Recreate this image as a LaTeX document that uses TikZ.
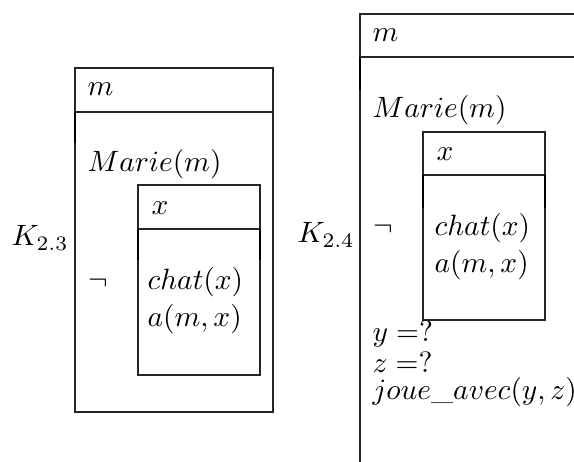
\documentclass[tikz,border=0pt]{standalone}
\begin{document}
\begin{tikzpicture}[x=0.34pt,y=-0.34pt,
  txt/.style={anchor=base west, inner sep=0pt},
  rule/.style={draw=black!85, line width=0.45pt},
  seam/.style={draw=black, line width=0.8pt}]
\useasboundingbox (0,0) rectangle (574,462);
\clip (0,0) rectangle (574,462);
% ---- K 2.3 ----
\draw[rule] (75,68) rectangle (273,412);
\draw[rule] (75,112) -- (273,112);
\draw[seam] (75,112) -- (75,143);
\draw[rule] (138,185) rectangle (260,375);
\draw[rule] (138,229) -- (260,229);
\draw[seam] (138,229) -- (138,260);
\draw[seam] (260,229) -- (260,260);
\node[txt] (k23) at (11,246) {$K_{2.3}$};
\node[txt] (m1) at (87,96) {$m$};
\node[txt] (marie1) at (87,172) {$Marie(m)$};
\node[txt] (x1) at (151,215) {$x$};
\node[txt] (neg1) at (88,290) {$\neg$};
\node[txt] (chat1) at (147,290) {$chat(x)$};
\node[txt] (a1) at (147,327) {$a(m,x)$};
% ---- K 2.4 ----
\draw[rule] (600,14) -- (360,14) -- (360,480);
\draw[rule] (360,57) -- (600,57);
\draw[seam] (360,57) -- (360,90);
\draw[rule] (423,132) rectangle (545,320);
\draw[rule] (423,175) -- (545,175);
\draw[seam] (423,175) -- (423,208);
\draw[seam] (545,175) -- (545,208);
\node[txt] (k24) at (297,243) {$K_{2.4}$};
\node[txt] (m2) at (372,42) {$m$};
\node[txt] (marie2) at (372,118) {$Marie(m)$};
\node[txt] (x2) at (436,161) {$x$};
\node[txt] (neg2) at (373,236) {$\neg$};
\node[txt] (chat2) at (434,236) {$chat(x)$};
\node[txt] (a2) at (434,273) {$a(m,x)$};
\node[txt] (yq) at (372,342) {$y =?$};
\node[txt] (zq) at (372,372) {$z =?$};
\node[txt] (joue) at (372,400) {$joue\_avec(y,z)$};
\end{tikzpicture}
\end{document}
